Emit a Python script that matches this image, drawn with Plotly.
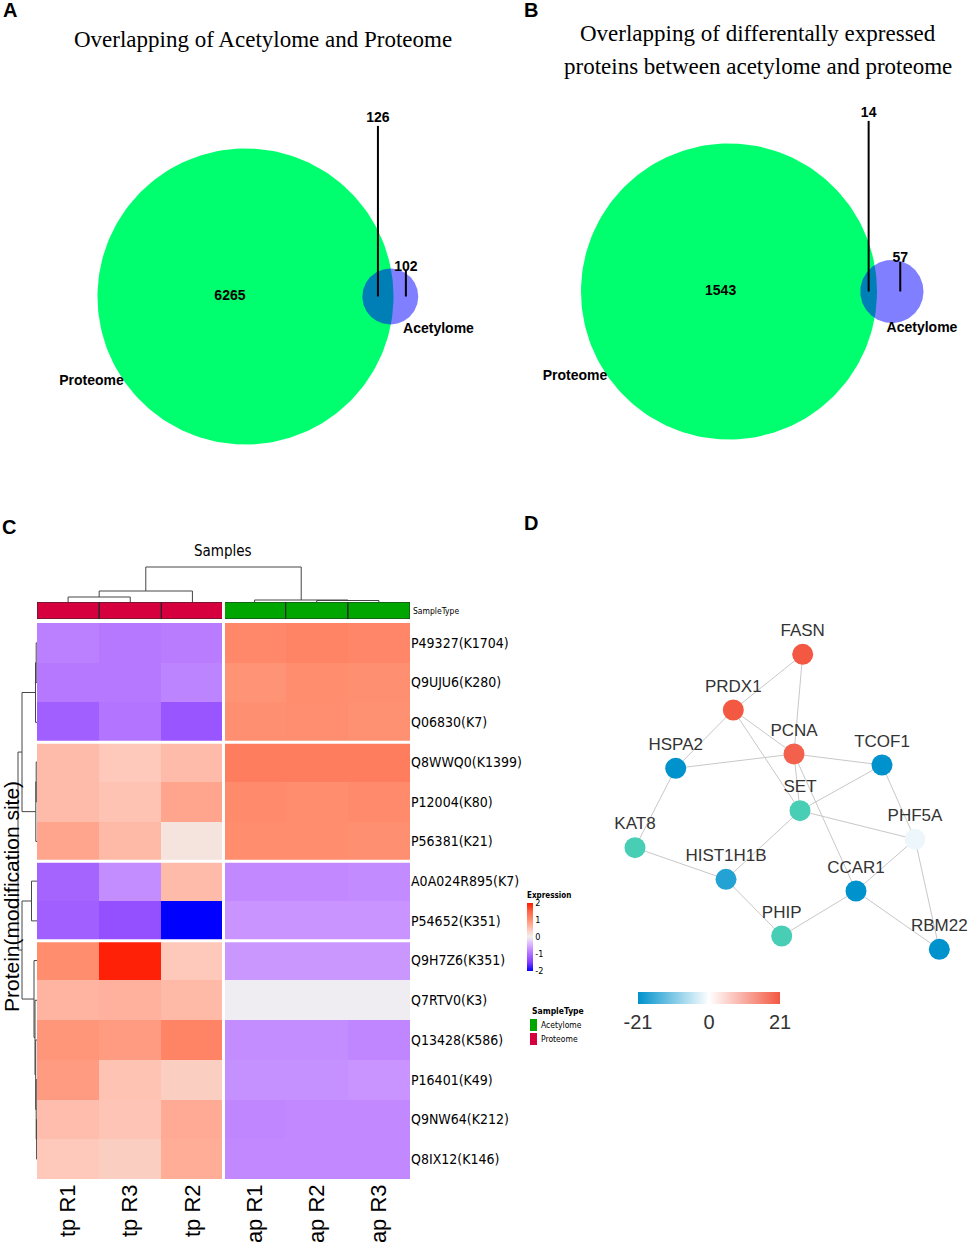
import math
import plotly.graph_objects as go

W, H = 969, 1245

# ---------------- Panel A / B : Venn data ----------------
venn_titles = [["Overlapping of Acetylome and Proteome"],
               ["Overlapping of differentally expressed",
                "proteins between acetylome and proteome"]]
only_proteome = [6265, 1543]
overlap = [126, 14]
only_acetylome = [102, 57]
set_names = ["Proteome", "Acetylome"]

# ---------------- Panel C : heatmap data ----------------
samples = ["tp R1", "tp R3", "tp R2", "ap R1", "ap R2", "ap R3"]
sample_type = ["Proteome", "Proteome", "Proteome", "Acetylome", "Acetylome", "Acetylome"]
sites = ["P49327(K1704)", "Q9UJU6(K280)", "Q06830(K7)", "Q8WWQ0(K1399)", "P12004(K80)",
         "P56381(K21)", "A0A024R895(K7)", "P54652(K351)", "Q9H7Z6(K351)", "Q7RTV0(K3)",
         "Q13428(K586)", "P16401(K49)", "Q9NW64(K212)", "Q8IX12(K146)"]
expression = [
    [-0.85, -0.92, -0.88, 1.10, 1.15, 1.12],
    [-0.92, -0.92, -0.82, 0.98, 1.05, 1.02],
    [-1.15, -0.95, -1.25, 1.02, 1.03, 1.00],
    [0.58, 0.45, 0.58, 1.22, 1.22, 1.22],
    [0.58, 0.50, 0.80, 1.08, 1.05, 1.08],
    [0.80, 0.60, 0.15, 1.05, 1.05, 1.02],
    [-1.10, -0.75, 0.58, -0.78, -0.78, -0.76],
    [-1.15, -1.30, -2.00, -0.68, -0.68, -0.68],
    [1.05, 1.95, 0.45, -0.66, -0.66, -0.66],
    [0.65, 0.68, 0.60, -0.02, -0.02, -0.02],
    [0.95, 0.90, 1.15, -0.75, -0.75, -0.80],
    [0.90, 0.50, 0.38, -0.72, -0.72, -0.68],
    [0.55, 0.48, 0.75, -0.80, -0.78, -0.78],
    [0.45, 0.38, 0.72, -0.78, -0.78, -0.78],
]
col_split_after = [2]
row_split_after = [2, 5, 7]
# dendrogram merges: (child a, child b, height)
col_merges = [(0, 1, 5), (6, 2, 11), (4, 5, 1.5), (3, 8, 2), (7, 9, 35)]
row_merges = [(0, 1, 0.8), (14, 2, 1.5), (3, 4, 0.8), (16, 5, 1.2), (15, 17, 15),
              (6, 7, 5.5), (12, 13, 0.4), (11, 20, 0.8), (10, 21, 1.3), (9, 22, 2),
              (8, 23, 3), (19, 24, 15), (18, 25, 19)]
expr_ticks = [-2, -1, 0, 1, 2]

# ---------------- Panel D : network data ----------------
genes = ["FASN", "PRDX1", "PCNA", "HSPA2", "TCOF1", "SET", "PHF5A", "KAT8",
         "HIST1H1B", "CCAR1", "PHIP", "RBM22"]
gene_x = [212.7, 143.3, 204, 85.7, 292, 210, 325, 45, 136, 266, 191.7, 349.3]
gene_y = [54.3, 110, 154, 168.3, 165, 210.7, 239.3, 247.7, 279.3, 291, 336, 349.3]
gene_fc = [21, 21, 20, -21, -21, None, -1.5, None, -18, -21, None, -21]
edges = [("FASN", "PRDX1"), ("FASN", "PCNA"), ("PRDX1", "HSPA2"), ("PRDX1", "PCNA"),
         ("PRDX1", "SET"), ("PCNA", "HSPA2"), ("PCNA", "TCOF1"), ("PCNA", "SET"),
         ("PCNA", "CCAR1"), ("TCOF1", "SET"), ("TCOF1", "PHF5A"), ("SET", "PHF5A"),
         ("SET", "HIST1H1B"), ("HSPA2", "KAT8"), ("KAT8", "HIST1H1B"),
         ("HIST1H1B", "PHIP"), ("PHIP", "CCAR1"), ("CCAR1", "PHF5A"),
         ("CCAR1", "RBM22"), ("PHF5A", "RBM22")]
fc_ticks = [-21, 0, 21]

# ---------------- helpers ----------------
def xd(a, b):
    return [a / W, b / W]

def yd(top, bottom):
    return [1 - bottom / H, 1 - top / H]

def lens_area(r1, r2, d):
    if d >= r1 + r2:
        return 0.0
    if d <= r1 - r2:
        return math.pi * r2 ** 2
    a1 = r1 ** 2 * math.acos((d * d + r1 * r1 - r2 * r2) / (2 * d * r1))
    a2 = r2 ** 2 * math.acos((d * d + r2 * r2 - r1 * r1) / (2 * d * r2))
    a3 = 0.5 * math.sqrt((-d + r1 + r2) * (d + r1 - r2) * (d - r1 + r2) * (d + r1 + r2))
    return a1 + a2 - a3

def solve_distance(r1, r2, target):
    lo, hi = r1 - r2, r1 + r2
    for _ in range(100):
        mid = (lo + hi) / 2
        if lens_area(r1, r2, mid) > target:
            lo = mid
        else:
            hi = mid
    return (lo + hi) / 2

def circle_pts(cx, cy, r, n=200):
    xs = [cx + r * math.cos(2 * math.pi * i / n) for i in range(n + 1)]
    ys = [cy + r * math.sin(2 * math.pi * i / n) for i in range(n + 1)]
    return xs, ys

def dendro(merges, n):
    pos = {i: float(i) for i in range(n)}
    hgt = {i: 0.0 for i in range(n)}
    a_s, h_s = [], []
    for k, (a, b, h) in enumerate(merges):
        for c in (a, b):
            a_s += [pos[c], pos[c], None]
            h_s += [hgt[c], h, None]
        a_s += [pos[a], pos[b], None]
        h_s += [h, h, None]
        pos[n + k] = (pos[a] + pos[b]) / 2
        hgt[n + k] = h
    return a_s, h_s

def note(x, y, text, size, family, color="black", xanchor="center", angle=0):
    return dict(x=x / W, y=1 - y / H, xref="paper", yref="paper", text=text,
                showarrow=False, xanchor=xanchor, yanchor="middle", textangle=angle,
                font=dict(family=family, size=size, color=color))

fig = go.Figure()
annotations = []
shapes = []

SANS = "Liberation Sans, Arial, sans-serif"
NARROW = "Liberation Sans Narrow, Arial Narrow, DejaVu Sans Condensed, Liberation Sans, sans-serif"
SERIF = "Liberation Serif, Times New Roman, serif"

# ---------------- Venn panels ----------------
R_BIG = 148
venn_axes = [("x", "y"), ("x2", "y2")]
venn_geo = [  # pixel region (left, right, top, bottom) and circle centre pixel
    dict(l=0, r=484, t=80, b=470, cx=245.5, cy=296.5),
    dict(l=484, r=969, t=80, b=470, cx=729, cy=291.5),
]
for i in range(2):
    xa, ya = venn_axes[i]
    g = venn_geo[i]
    n_big = only_proteome[i] + overlap[i]
    n_small = only_acetylome[i] + overlap[i]
    r1 = R_BIG
    r2 = R_BIG * math.sqrt(n_small / n_big)
    d = solve_distance(r1, r2, math.pi * r2 ** 2 * overlap[i] / n_small)
    bx, by = circle_pts(0, 0, r1)
    fig.add_trace(go.Scatter(x=bx, y=by, mode="lines", fill="toself",
                             fillcolor="rgb(0,255,110)", line=dict(width=0),
                             xaxis=xa, yaxis=ya, hoverinfo="skip", showlegend=False))
    sx, sy = circle_pts(d, 0, r2)
    fig.add_trace(go.Scatter(x=sx, y=sy, mode="lines", fill="toself",
                             fillcolor="rgba(0,0,255,0.5)", line=dict(width=0),
                             xaxis=xa, yaxis=ya, hoverinfo="skip", showlegend=False))
    x_only_big = ((-r1) + (d - r2)) / 2
    x_over = ((d - r2) + r1) / 2
    x_only_small = (r1 + (d + r2)) / 2
    y_over_lbl = 1.2 * r1
    y_small_lbl = r2 + 1
    fig.add_trace(go.Scatter(x=[x_over, x_over, None, x_only_small, x_only_small],
                             y=[y_over_lbl - 7, 0, None, y_small_lbl - 3, 0],
                             mode="lines", line=dict(color="black", width=2),
                             xaxis=xa, yaxis=ya, hoverinfo="skip", showlegend=False))
    fig.add_trace(go.Scatter(x=[x_only_big, x_over, x_only_small],
                             y=[0, y_over_lbl, y_small_lbl],
                             text=[str(only_proteome[i]), str(overlap[i]), str(only_acetylome[i])],
                             mode="text", textfont=dict(family=SANS, size=14, color="black"),
                             texttemplate="<b>%{text}</b>",
                             xaxis=xa, yaxis=ya, hoverinfo="skip", showlegend=False))
    ang = math.radians(29)
    fig.add_trace(go.Scatter(x=[-1.19 * r1 * math.cos(ang), r1 + 45],
                             y=[-1.19 * r1 * math.sin(ang), -r2 - 5],
                             text=[set_names[0], set_names[1]],
                             mode="text", textfont=dict(family=SANS, size=14, color="black"),
                             texttemplate="<b>%{text}</b>",
                             xaxis=xa, yaxis=ya, hoverinfo="skip", showlegend=False))
    ax_x = dict(domain=xd(g["l"], g["r"]), range=[g["l"] - g["cx"], g["r"] - g["cx"]],
                visible=False, anchor=ya, fixedrange=True)
    ax_y = dict(domain=yd(g["t"], g["b"]), range=[g["cy"] - g["b"], g["cy"] - g["t"]],
                visible=False, anchor=xa, fixedrange=True)
    fig.update_layout(**{("xaxis" if xa == "x" else "xaxis" + xa[1:]): ax_x,
                         ("yaxis" if ya == "y" else "yaxis" + ya[1:]): ax_y})

annotations.append(note(263, 40, venn_titles[0][0], 23, SERIF))
for k, line in enumerate(venn_titles[1]):
    annotations.append(note(758, 33 + 34 * k, line, 23, SERIF))

for lbl, (lx, ly) in zip("ABCD", [(10, 10), (531, 10), (9, 527), (531, 523)]):
    annotations.append(note(lx, ly, "<b>%s</b>" % lbl, 20, SANS))

# ---------------- Heatmap ----------------
nrow, ncol = len(sites), len(samples)
hm_colorscale = [[0.0, "rgb(0,0,255)"], [0.125, "rgb(130,60,255)"], [0.25, "rgb(175,110,255)"],
                 [0.375, "rgb(215,170,255)"], [0.5, "rgb(240,240,240)"],
                 [0.625, "rgb(255,195,180)"], [0.75, "rgb(255,145,115)"],
                 [0.875, "rgb(255,100,70)"], [1.0, "rgb(255,25,0)"]]
fig.add_trace(go.Heatmap(z=expression, x=list(range(ncol)), y=list(range(nrow)),
                         zmin=-2, zmax=2, colorscale=hm_colorscale,
                         xaxis="x3", yaxis="y3", hoverinfo="skip",
                         colorbar=dict(x=527 / W, xanchor="left", y=1 - 889 / H, yanchor="top",
                                       len=82, lenmode="pixels", thickness=6,
                                       thicknessmode="pixels", xpad=0, ypad=0,
                                       outlinewidth=0, ticks="", tickvals=expr_ticks,
                                       ticktext=[str(v) for v in expr_ticks],
                                       tickfont=dict(family=NARROW, size=9, color="black"),
                                       title=dict(text="<b>Expression</b>", side="top",
                                                  font=dict(family=NARROW, size=8, color="black")))))

type_colors = {"Acetylome": "rgb(0,166,0)", "Proteome": "rgb(214,0,62)"}
type_code = [0 if t == "Acetylome" else 1 for t in sample_type]
fig.add_trace(go.Heatmap(z=[type_code], x=list(range(ncol)), y=[0], zmin=0, zmax=1,
                         colorscale=[[0, type_colors["Acetylome"]], [0.5, type_colors["Acetylome"]],
                                     [0.5, type_colors["Proteome"]], [1, type_colors["Proteome"]]],
                         showscale=False, xaxis="x4", yaxis="y4", hoverinfo="skip"))
for j in range(ncol):
    shapes.append(dict(type="rect", xref="x4", yref="y4", x0=j - 0.5, x1=j + 0.5,
                       y0=-0.5, y1=0.5, line=dict(color="rgb(40,40,40)", width=1), layer="above"))

for c in col_split_after:
    for xr, yr, y0, y1 in [("x3", "y3", -0.5, nrow - 0.5), ("x4", "y4", -0.5, 0.5)]:
        shapes.append(dict(type="line", xref=xr, yref=yr, x0=c + 0.5, x1=c + 0.5, y0=y0, y1=y1,
                           line=dict(color="white", width=3), layer="above"))
for r in row_split_after:
    shapes.append(dict(type="line", xref="x3", yref="y3", x0=-0.5, x1=ncol - 0.5, y0=r + 0.5,
                       y1=r + 0.5, line=dict(color="white", width=3), layer="above"))

ca, ch = dendro(col_merges, ncol)
fig.add_trace(go.Scatter(x=ca, y=ch, mode="lines", line=dict(color="rgb(70,70,70)", width=1),
                         xaxis="x5", yaxis="y5", hoverinfo="skip", showlegend=False))
ra, rh = dendro(row_merges, nrow)
fig.add_trace(go.Scatter(x=rh, y=ra, mode="lines", line=dict(color="rgb(70,70,70)", width=1),
                         xaxis="x6", yaxis="y6", hoverinfo="skip", showlegend=False))

HM_L, HM_R, HM_T, HM_B = 37, 410, 623, 1179
fig.update_layout(
    xaxis3=dict(domain=xd(HM_L, HM_R), range=[-0.5, ncol - 0.5], anchor="y3",
                tickvals=list(range(ncol)), ticktext=samples, tickangle=-90,
                tickfont=dict(family=SANS, size=22, color="black"), ticks="",
                showgrid=False, zeroline=False, showline=False, fixedrange=True),
    yaxis3=dict(domain=yd(HM_T, HM_B), range=[nrow - 0.5, -0.5], anchor="x3", side="right",
                tickvals=list(range(nrow)), ticktext=sites,
                tickfont=dict(family=NARROW, size=14, color="black"), ticks="",
                showgrid=False, zeroline=False, showline=False, fixedrange=True),
    xaxis4=dict(domain=xd(HM_L, HM_R), range=[-0.5, ncol - 0.5], anchor="y4",
                visible=False, fixedrange=True),
    yaxis4=dict(domain=yd(602, 619), range=[-0.5, 0.5], anchor="x4", visible=False,
                fixedrange=True),
    xaxis5=dict(domain=xd(HM_L, HM_R), range=[-0.5, ncol - 0.5], anchor="y5",
                visible=False, fixedrange=True),
    yaxis5=dict(domain=yd(560, 602), range=[0, 42], anchor="x5", visible=False,
                fixedrange=True),
    xaxis6=dict(domain=xd(8, HM_L), range=[29, 0], anchor="y6", visible=False,
                fixedrange=True),
    yaxis6=dict(domain=yd(HM_T, HM_B), range=[nrow - 0.5, -0.5], anchor="x6",
                visible=False, fixedrange=True),
)

annotations.append(note(223, 551, "Samples", 15, NARROW))
annotations.append(note(411, 611, "SampleType", 8.5, NARROW, xanchor="left"))
annotations.append(note(11, 897, "Protein(modification site)", 21, SANS, angle=-90))
annotations.append(note(530, 1011, "<b>SampleType</b>", 8.5, NARROW, xanchor="left"))
for k, t in enumerate(["Acetylome", "Proteome"]):
    yc = 1025 + 14 * k
    shapes.append(dict(type="rect", xref="paper", yref="paper", x0=530 / W, x1=537 / W,
                       y0=1 - (yc + 6) / H, y1=1 - (yc - 6) / H,
                       fillcolor=type_colors[t], line=dict(width=0)))
    annotations.append(note(539, yc, t, 8.5, NARROW, xanchor="left"))

# ---------------- Network ----------------
idx = {g: i for i, g in enumerate(genes)}
ex, ey = [], []
for a, b in edges:
    ex += [gene_x[idx[a]], gene_x[idx[b]], None]
    ey += [gene_y[idx[a]], gene_y[idx[b]], None]
fig.add_trace(go.Scatter(x=ex, y=ey, mode="lines", line=dict(color="rgb(200,200,200)", width=1),
                         xaxis="x7", yaxis="y7", hoverinfo="skip", showlegend=False))
fc_idx = [i for i, v in enumerate(gene_fc) if v is not None]
nv_idx = [i for i, v in enumerate(gene_fc) if v is None]
fig.add_trace(go.Scatter(x=[gene_x[i] for i in nv_idx], y=[gene_y[i] for i in nv_idx],
                         text=[genes[i] for i in nv_idx], mode="markers+text",
                         textposition="top center",
                         textfont=dict(family=SANS, size=17, color="rgb(51,51,51)"),
                         marker=dict(size=21, color="rgb(72,206,180)", line=dict(width=0)),
                         xaxis="x7", yaxis="y7", hoverinfo="skip", showlegend=False))
fig.add_trace(go.Scatter(x=[gene_x[i] for i in fc_idx], y=[gene_y[i] for i in fc_idx],
                         text=[genes[i] for i in fc_idx], mode="markers+text",
                         textposition="top center",
                         textfont=dict(family=SANS, size=17, color="rgb(51,51,51)"),
                         marker=dict(size=21, color=[gene_fc[i] for i in fc_idx],
                                     cmin=-21, cmax=21, line=dict(width=0),
                                     colorscale=[[0, "rgb(0,146,204)"], [0.5, "rgb(255,255,255)"],
                                                 [1, "rgb(242,88,66)"]],
                                     showscale=True,
                                     colorbar=dict(orientation="h", x=709 / W, xanchor="center",
                                                   y=1 - 992 / H, yanchor="top", len=142,
                                                   lenmode="pixels", thickness=12,
                                                   thicknessmode="pixels", outlinewidth=0,
                                                   ticks="", tickvals=fc_ticks,
                                                   ticktext=[str(v) for v in fc_ticks],
                                                   xpad=0, ypad=0,
                                                   tickfont=dict(family=SANS, size=20,
                                                                 color="rgb(51,51,51)"))),
                         xaxis="x7", yaxis="y7", hoverinfo="skip", showlegend=False))
fig.update_layout(
    xaxis7=dict(domain=xd(590, 969), range=[0, 379], anchor="y7", visible=False, fixedrange=True),
    yaxis7=dict(domain=yd(600, 980), range=[380, 0], anchor="x7", visible=False, fixedrange=True),
)

fig.update_layout(width=W, height=H, margin=dict(l=0, r=0, t=0, b=0),
                  paper_bgcolor="white", plot_bgcolor="white", showlegend=False,
                  annotations=annotations, shapes=shapes)
fig.write_html("out.html", config={"displayModeBar": False},
               post_script="document.body.style.margin='0px';")
